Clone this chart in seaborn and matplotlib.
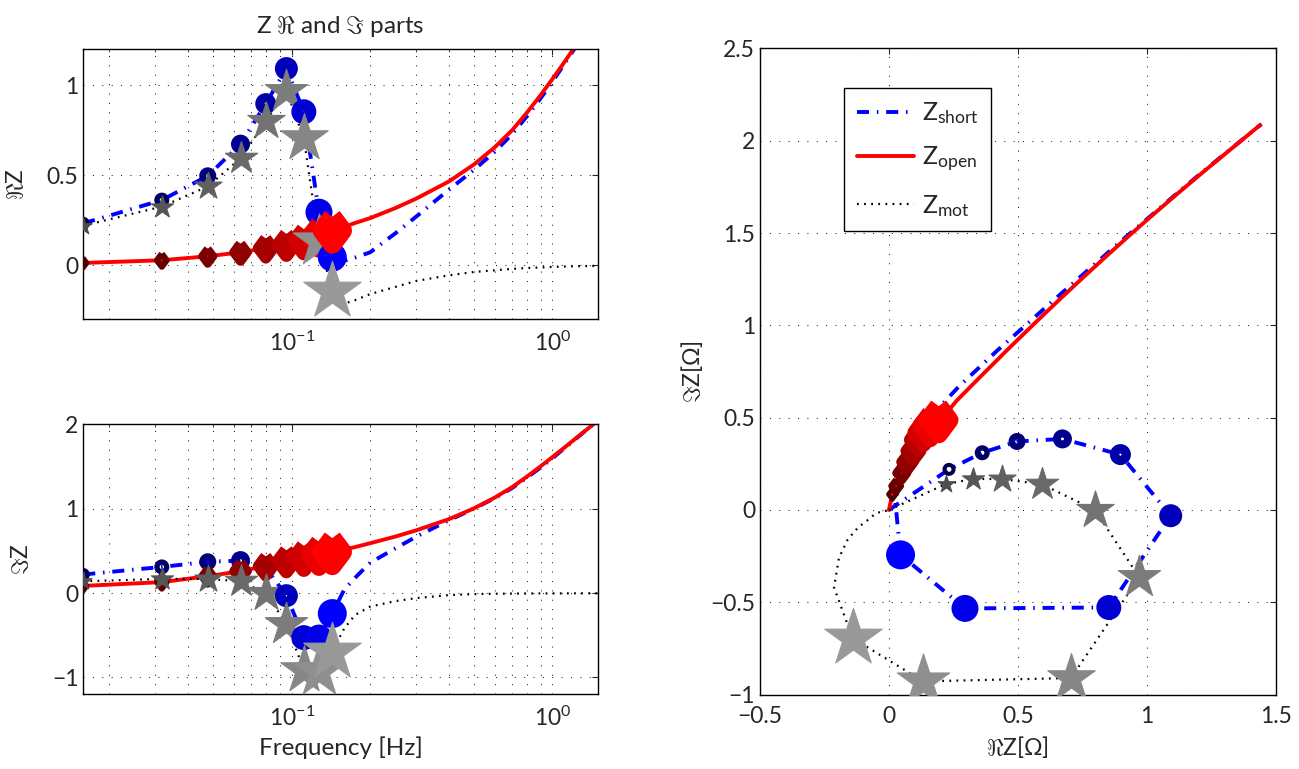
import numpy as np
import pandas as pd
import matplotlib
matplotlib.use('Agg')
from matplotlib import pyplot as plt
from matplotlib.ticker import FuncFormatter, MultipleLocator
import seaborn as sns

# frequency grid: DC, the 9 marked bins, then samples of the continuous curves
freq = [0.0, 0.0159, 0.0318, 0.0477, 0.0637, 0.0796, 0.0955, 0.1114, 0.1273, 0.1432,
        0.159, 0.175, 0.2, 0.25, 0.3, 0.4, 0.5, 0.6, 0.7, 0.8, 0.9, 1.0, 1.1, 1.22, 1.55]

short_re = [0.0, 0.233, 0.362, 0.497, 0.673, 0.898, 1.093, 0.853, 0.295, 0.045,
            0.025, 0.043, 0.072, 0.178, 0.27, 0.419, 0.53, 0.63, 0.728, 0.83, 0.927, 1.02, 1.11, 1.207, 1.445]
short_im = [0.0, 0.22, 0.31, 0.371, 0.385, 0.30, -0.031, -0.528, -0.533, -0.243,
            0.04, 0.18, 0.36, 0.53, 0.667, 0.862, 1.0, 1.125, 1.245, 1.37, 1.488, 1.598, 1.706, 1.82, 2.09]

open_re = [0.0, 0.013, 0.028, 0.05, 0.072, 0.095, 0.115, 0.135, 0.16, 0.193,
           0.213, 0.235, 0.262, 0.318, 0.37, 0.465, 0.56, 0.655, 0.75, 0.85, 0.945, 1.035, 1.12, 1.215, 1.44]
open_im = [0.0, 0.085, 0.13, 0.2, 0.26, 0.32, 0.38, 0.42, 0.455, 0.487,
           0.515, 0.545, 0.591, 0.67, 0.743, 0.875, 1.004, 1.131, 1.255, 1.383, 1.502, 1.612, 1.714, 1.826, 2.085]

mot_re = [0.0, 0.22, 0.326, 0.438, 0.594, 0.799, 0.971, 0.706, 0.133, -0.141,
          -0.213, -0.194, -0.16, -0.12, -0.087, -0.056, -0.037, -0.028, -0.02, -0.015, -0.012, -0.009, -0.007, -0.005, -0.003]
mot_im = [0.0, 0.14, 0.168, 0.168, 0.139, 0.0, -0.364, -0.91, -0.928, -0.694,
          -0.42, -0.26, -0.16, -0.095, -0.06, -0.024, -0.012, -0.008, -0.006, -0.005, -0.004, -0.004, -0.003, -0.003, -0.002]

labels = ['Z$_{\\mathrm{short}}$', 'Z$_{\\mathrm{open}}$', 'Z$_{\\mathrm{mot}}$']

sns.set_style('white')
plt.rcParams['font.family'] = ['Lato', 'DejaVu Sans']
plt.rcParams['mathtext.fontset'] = 'custom'
plt.rcParams['mathtext.rm'] = 'Lato'
plt.rcParams['mathtext.it'] = 'Lato:italic'
plt.rcParams['mathtext.bf'] = 'Lato:bold'
plt.rcParams['font.size'] = 16.5

PX = 72 / 100  # pixels -> points
nk = np.arange(1, 10)
t = (nk - 1) / 8
blue_cols = [(0, 0, 0.3 + 0.7 * v) for v in t]
red_cols = [(0.3 + 0.7 * v, 0, 0) for v in t]
gray_cols = [(g, g, g) for g in 0.3 + 0.3 * t]
circ_ms = (8.3 + 0.7 * nk) * PX
circ_lw = (2.7 + 1.3 * nk) * PX
diam_ms = (11 + 2.1 * (nk - 1)) * PX
diam_lw = (4.2 + 1.8 * (nk - 1)) * PX
star_ms = (18 + 5.3 * (nk - 1)) * PX
# matlab style diamond, a bit taller than wide
diamond = [(0, 1), (0.75, 0), (0, -1), (-0.75, 0), (0, 1)]

line_styles = [
    ('#0000ff', (0, (3.1, 2.0, 0.4, 2.0)), 2.8),
    ('#ff0000', '-', 2.8),
    ('black', (0, (0.8, 2.4)), 1.6),
]

fig = plt.figure(figsize=(12.99, 7.69), dpi=100)
ax_re = fig.add_axes([0.0641, 0.5848, 0.396, 0.3511])
ax_im = fig.add_axes([0.0641, 0.0971, 0.396, 0.3511])
ax_ny = fig.add_axes([0.5851, 0.0967, 0.3969, 0.8404])
ax_re.set_xscale('log')
ax_im.set_xscale('log')


def draw(ax, xs, ys, start, with_labels=False):
    for j, (x, y) in enumerate(zip(xs, ys)):
        col, ls, lw = line_styles[j]
        sns.lineplot(x=x[start:], y=y[start:], sort=False, estimator=None, color=col,
                     linestyle=ls, linewidth=lw, ax=ax, zorder=2,
                     label=labels[j] if with_labels else None, legend=False)
    # markers drawn bin by bin, so later bins sit on top
    for k in range(1, 10):
        i = k - 1
        sns.scatterplot(x=[xs[0][k]], y=[ys[0][k]], marker='o', s=circ_ms[i] ** 2,
                        color=blue_cols[i], facecolors='none', edgecolor=blue_cols[i],
                        linewidth=circ_lw[i], ax=ax, zorder=3, legend=False)
        sns.scatterplot(x=[xs[1][k]], y=[ys[1][k]], marker=diamond, s=diam_ms[i] ** 2,
                        color=red_cols[i], facecolors='none', edgecolor=red_cols[i],
                        linewidth=diam_lw[i], ax=ax, zorder=3, legend=False)
        sns.scatterplot(x=[xs[2][k]], y=[ys[2][k]], marker='*', s=star_ms[i] ** 2,
                        color=gray_cols[i], edgecolor=gray_cols[i], linewidth=0.8,
                        ax=ax, zorder=3, legend=False)


draw(ax_re, [freq] * 3, [short_re, open_re, mot_re], 1)
draw(ax_im, [freq] * 3, [short_im, open_im, mot_im], 1)
draw(ax_ny, [short_re, open_re, mot_re], [short_im, open_im, mot_im], 0, with_labels=True)

fmt = FuncFormatter(lambda v, p: ('%g' % v).replace('-', '\u2212'))
grid_kw = dict(color='0.15', linewidth=0.75, linestyle=(0, (1, 8)))

for ax in (ax_re, ax_im):
    ax.set_xlim(0.0159, 1.49)
    ax.grid(True, which='major', **grid_kw)
    ax.grid(True, which='minor', axis='x', **grid_kw)
ax_re.set_ylim(-0.3, 1.2)
ax_re.yaxis.set_major_locator(MultipleLocator(0.5))
ax_im.set_ylim(-1.2, 2)
ax_im.yaxis.set_major_locator(MultipleLocator(1))

ax_ny.set_xlim(-0.5, 1.5)
ax_ny.set_ylim(-1, 2.5)
ax_ny.xaxis.set_major_locator(MultipleLocator(0.5))
ax_ny.yaxis.set_major_locator(MultipleLocator(0.5))
ax_ny.grid(True, **grid_kw)

for ax in (ax_re, ax_im, ax_ny):
    ax.yaxis.set_major_formatter(fmt)
    if ax is ax_ny:
        ax.xaxis.set_major_formatter(fmt)
    ax.tick_params(which='both', direction='in', top=True, right=True, labelsize=16.5)
    ax.tick_params(which='major', length=4, width=0.8)
    ax.tick_params(which='minor', length=2.5, width=0.6)
    ax.tick_params(axis='x', which='major', pad=8)
    for s in ax.spines.values():
        s.set_color('black')
        s.set_linewidth(1.0)
    ax.set_axisbelow(True)

ax_re.set_title(r'Z $\Re$ and $\Im$ parts', fontsize=17.5, pad=12)
ax_re.set_ylabel(r'$\Re$Z', fontsize=16.5, labelpad=14)
ax_im.set_ylabel(r'$\Im$Z', fontsize=16.5, labelpad=14)
ax_im.set_xlabel('Frequency [Hz]', fontsize=17.5, labelpad=5)
ax_ny.set_xlabel(r'$\Re$Z[$\Omega$]', fontsize=16.5, labelpad=5)
ax_ny.set_ylabel(r'$\Im$Z[$\Omega$]', fontsize=16.5)

leg = ax_ny.legend(loc='upper left', bbox_to_anchor=(0.163, 0.939), borderaxespad=0,
                   fontsize=18, handlelength=2.3, handletextpad=0.3, labelspacing=0.75,
                   borderpad=0.5, fancybox=False, framealpha=1, edgecolor='black')
leg.get_frame().set_linewidth(1.0)

fig.savefig('out.png', dpi=100)
